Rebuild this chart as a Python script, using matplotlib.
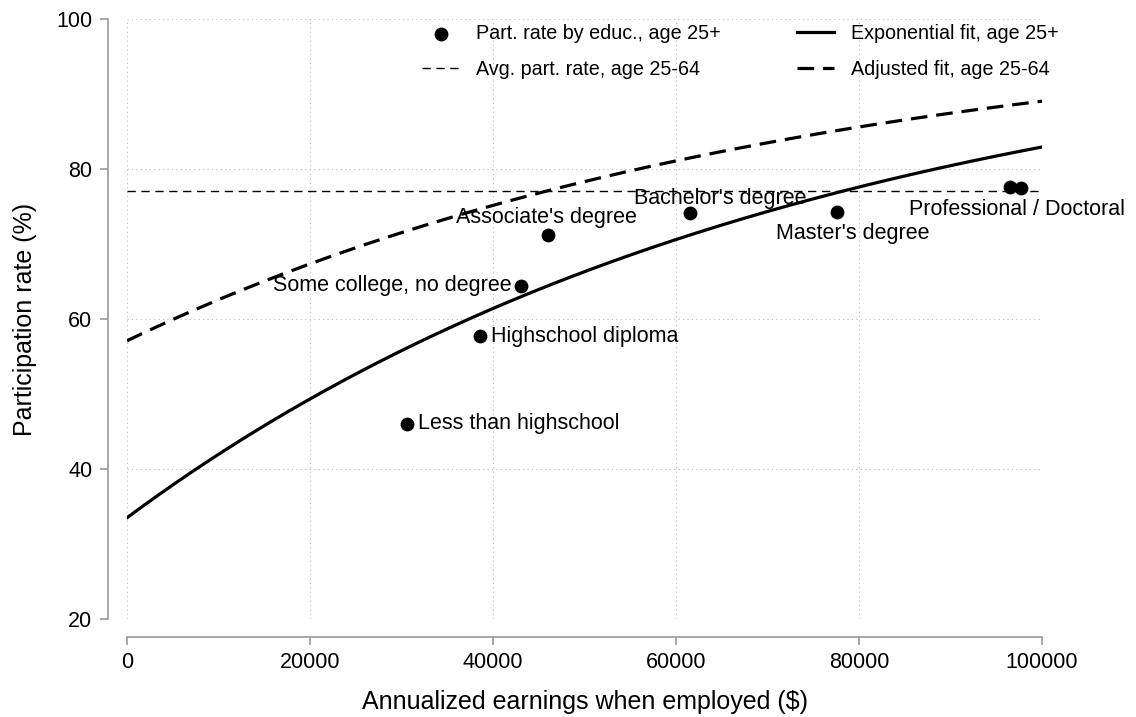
import numpy as np
import matplotlib
matplotlib.use('Agg')
import matplotlib.pyplot as plt

plt.rcParams['font.family'] = ['Liberation Sans', 'DejaVu Sans']

# participation rate by education level
educ_labels = ["Less than highschool", "Highschool diploma", "Some college, no degree",
               "Associate's degree", "Bachelor's degree", "Master's degree",
               "Professional", "Doctoral"]
earnings = [30600, 38600, 43100, 46000, 61500, 77600, 96500, 97700]
part_rate = [46.0, 57.7, 64.4, 71.2, 74.1, 74.3, 77.6, 77.5]

avg_part_rate = 77.1

# fit parameters: y = 100 - a * exp(-b * x)
exp_fit_a, exp_fit_b = 66.5, 1.36e-5
adj_fit_a, adj_fit_b = 42.9, 1.365e-5

# label text, offset in points, alignment
label_specs = [
    ("Less than highschool", (8, 0), 'left', 'center'),
    ("Highschool diploma", (8, 0), 'left', 'center'),
    ("Some college, no degree", (-7, 0), 'right', 'center'),
    ("Associate's degree", (-1, 5), 'center', 'bottom'),
    ("Bachelor's degree", (22, 3), 'center', 'bottom'),
    ("Master's degree", (11, -8), 'center', 'top'),
    (None, None, None, None),
    ("Professional / Doctoral", (-3, -8), 'center', 'top'),
]

fig = plt.figure(figsize=(11.36, 7.17), dpi=100)
ax = fig.add_axes([127/1136, 1 - 619/717, (1042-127)/1136, 600/717])

xs = np.linspace(0, 100000, 400)
ax.plot(xs, 100 - exp_fit_a * np.exp(-exp_fit_b * xs), color='black', lw=2.3,
        label='Exponential fit, age 25+')
ax.plot(xs, 100 - adj_fit_a * np.exp(-adj_fit_b * xs), color='black', lw=2.3,
        dashes=(5.2, 2.8), label='Adjusted fit, age 25-64')
ax.axhline(avg_part_rate, color='black', lw=1.0, dashes=(6, 4),
           label='Avg. part. rate, age 25-64')
ax.scatter(earnings, part_rate, s=80, color='black', zorder=5,
           label='Part. rate by educ., age 25+')

for (txt, off, ha, va), x, y in zip(label_specs, earnings, part_rate):
    if txt is None:
        continue
    ax.annotate(txt, (x, y), xytext=off, textcoords='offset points',
                ha=ha, va=va, fontsize=15.5)

ax.set_xlim(0, 100000)
ax.set_ylim(20, 100)
ax.set_xticks(range(0, 100001, 20000))
ax.set_yticks(range(20, 101, 20))
ax.grid(True, color='#bbbbbb', linestyle=(0, (1, 3)), lw=0.8)

for s in ['top', 'right']:
    ax.spines[s].set_visible(False)
ax.spines['left'].set_position(('outward', 14))
ax.spines['bottom'].set_position(('outward', 13))
for s in ['left', 'bottom']:
    ax.spines[s].set_color('#999999')
    ax.spines[s].set_linewidth(1.2)
ax.tick_params(length=6, width=1.2, color='#999999', labelsize=15.5, pad=5)

ax.set_xlabel('Annualized earnings when employed ($)', fontsize=18, labelpad=12)
ax.set_ylabel('Participation rate (%)', fontsize=18, labelpad=14)

h, l = ax.get_legend_handles_labels()
order = [3, 2, 0, 1]
ax.legend([h[i] for i in order], [l[i] for i in order], ncol=2, frameon=False,
          loc='upper left', bbox_to_anchor=(422/1136, 1 - 24/717),
          bbox_transform=fig.transFigure, fontsize=14.2, borderpad=0,
          borderaxespad=0, handlelength=1.9, handletextpad=0.85,
          columnspacing=3.85, labelspacing=0.84)

plt.savefig('out.png', dpi=100)
plt.close()
